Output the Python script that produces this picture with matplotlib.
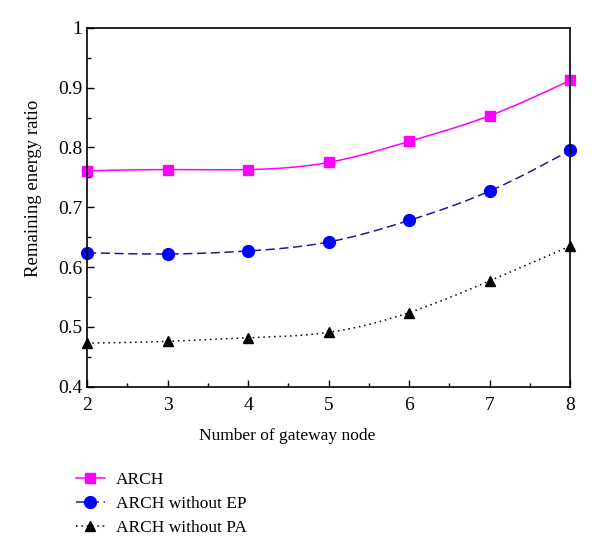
import numpy as np
import matplotlib
matplotlib.use("Agg")
import matplotlib.pyplot as plt
from matplotlib.ticker import MultipleLocator, FuncFormatter

# data
gateways = [2, 3, 4, 5, 6, 7, 8]
arch = [0.761, 0.763, 0.763, 0.775, 0.810, 0.853, 0.912]
arch_no_ep = [0.624, 0.622, 0.627, 0.642, 0.678, 0.727, 0.795]
arch_no_pa = [0.473, 0.476, 0.482, 0.491, 0.524, 0.577, 0.635]


def spline(x, y, n=200):
    # natural cubic spline through the points, only used to draw a smooth line
    x = np.asarray(x, float)
    y = np.asarray(y, float)
    h = np.diff(x)
    m = len(x)
    A = np.zeros((m, m))
    b = np.zeros(m)
    A[0, 0] = A[-1, -1] = 1
    for i in range(1, m - 1):
        A[i, i - 1] = h[i - 1]
        A[i, i] = 2 * (h[i - 1] + h[i])
        A[i, i + 1] = h[i]
        b[i] = 3 * ((y[i + 1] - y[i]) / h[i] - (y[i] - y[i - 1]) / h[i - 1])
    c = np.linalg.solve(A, b)
    xs = np.linspace(x[0], x[-1], n)
    idx = np.clip(np.searchsorted(x, xs) - 1, 0, m - 2)
    dx = xs - x[idx]
    bb = (y[idx + 1] - y[idx]) / h[idx] - h[idx] * (2 * c[idx] + c[idx + 1]) / 3
    d = (c[idx + 1] - c[idx]) / (3 * h[idx])
    return xs, y[idx] + bb * dx + c[idx] * dx ** 2 + d * dx ** 3


plt.rcParams["font.family"] = ["Liberation Serif", "DejaVu Serif"]
plt.rcParams["font.size"] = 12

fig = plt.figure(figsize=(6, 5.55), dpi=100)
ax = fig.add_axes([0.145, 0.303, 0.805, 0.647])

series = [
    (arch, "ARCH", "#ff00ff", "#ff00ff", "-", "s", 7.5),
    (arch_no_ep, "ARCH without EP", "#1a1aa0", "#0000ff", (0, (6, 3)), "o", 8.5),
    (arch_no_pa, "ARCH without PA", "black", "black", (0, (1, 2.5)), "^", 7),
]

handles = []
for vals, label, lc, mc, ls, mk, ms in series:
    xs, ys = spline(gateways, vals)
    ax.plot(xs, ys, color=lc, linestyle=ls, linewidth=1.1)
    ax.plot(gateways, vals, linestyle="none", marker=mk, color=mc, markersize=ms, clip_on=False)
    h, = ax.plot([], [], color=lc, linestyle=ls, linewidth=1.1, marker=mk,
                 markerfacecolor=mc, markeredgecolor=mc, markersize=ms)
    handles.append((h, label))

ax.set_xlim(2, 8)
ax.set_ylim(0.4, 1.0)
ax.xaxis.set_major_locator(MultipleLocator(1))
ax.xaxis.set_minor_locator(MultipleLocator(0.5))
ax.yaxis.set_major_locator(MultipleLocator(0.1))
ax.yaxis.set_minor_locator(MultipleLocator(0.05))
ax.yaxis.set_major_formatter(FuncFormatter(lambda v, p: "%g" % round(v, 2)))
ax.tick_params(which="both", direction="in", top=False, right=False, labelsize=14)
ax.tick_params(which="major", length=5, width=1)
ax.tick_params(which="minor", length=3, width=1)
ax.tick_params(axis="x", pad=7)
for s in ax.spines.values():
    s.set_linewidth(1.2)

ax.set_xlabel("Number of gateway node", fontsize=12.5, labelpad=10)
ax.set_ylabel("Remaining energy ratio", fontsize=13.5, labelpad=8)
ax.xaxis.set_label_coords(0.414, -0.115)
ax.yaxis.set_label_coords(-0.093, 0.554)

fig.legend([h for h, _ in handles], [l for _, l in handles],
           loc="upper left", bbox_to_anchor=(0.1, 0.178), frameon=False,
           fontsize=12.5, handlelength=1.7, handletextpad=0.6, labelspacing=0.45)

fig.savefig("out.png", dpi=100)
